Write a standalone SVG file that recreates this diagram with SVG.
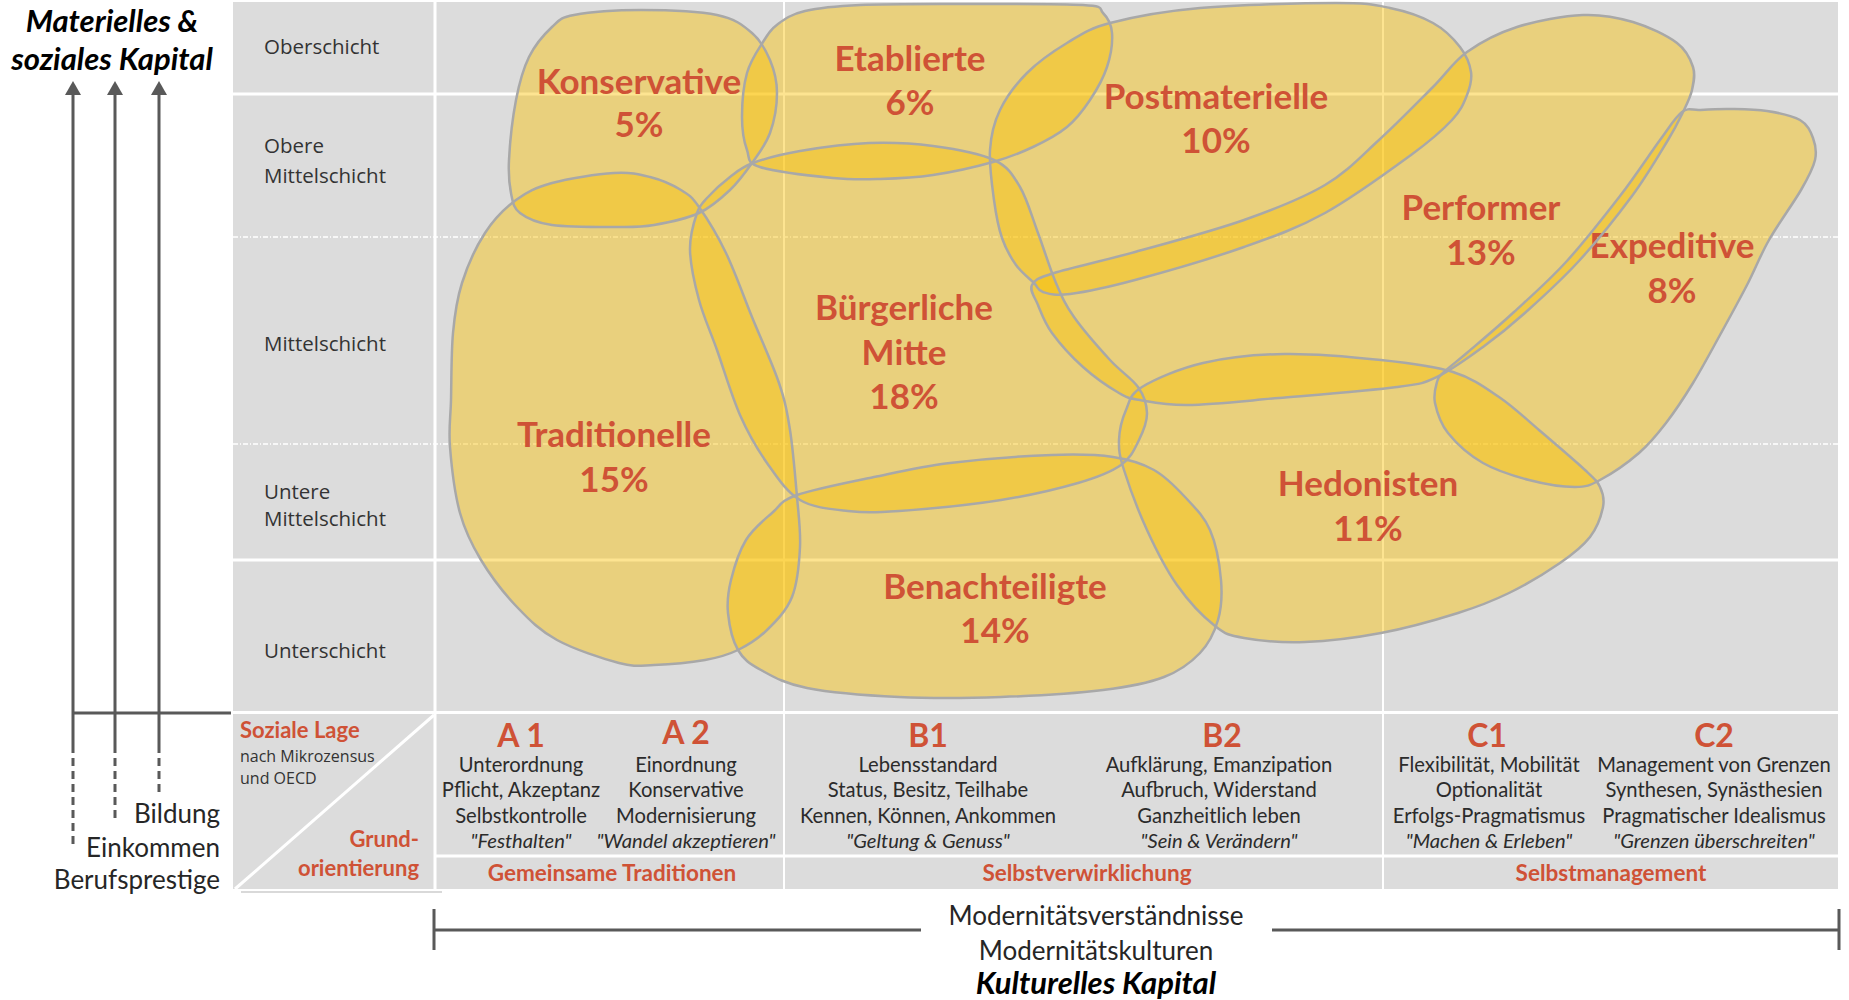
<svg xmlns="http://www.w3.org/2000/svg" xmlns:xlink="http://www.w3.org/1999/xlink" width="1849" height="1000" viewBox="0 0 1849 1000">
<defs>
<style>
text{font-family:Lato,"Liberation Sans",sans-serif;}
.bg{fill:#DCDCDC;}
.wl{stroke:#FFFFFF;stroke-width:3;fill:none;}
.wt{stroke:#FFFFFF;stroke-width:2;fill:none;}
.wd{stroke:#FFFFFF;stroke-width:1.5;stroke-dasharray:5 2 1 2;fill:none;}
.node{fill:#FAC000;fill-opacity:0.43;stroke:none;}
.outlines{fill:none;stroke:#A8A8A8;stroke-width:2.5;}
.lbl{font-weight:700;font-size:35px;fill:#CF5236;fill-opacity:1;text-anchor:middle;}
.row{font-family:"Open Sans",sans-serif;font-size:20.5px;fill:#333333;}
.small{font-family:"Open Sans",sans-serif;font-size:16px;fill:#333333;}
.cell{font-size:20.2px;fill:#2B2B2B;text-anchor:middle;}
.it{font-style:italic;}
.code{font-weight:700;font-size:32px;fill:#CF5236;text-anchor:middle;}
.grp{font-weight:700;font-size:22.5px;fill:#CF5236;text-anchor:middle;}
.redl{font-weight:700;font-size:22px;fill:#CF5236;}
.ax{stroke:#595959;stroke-width:3;fill:none;}
.axd{stroke:#595959;stroke-width:3;fill:none;stroke-dasharray:8 5;}
.side{font-size:26px;fill:#262626;text-anchor:end;}
.title{font-size:31px;font-weight:700;font-style:italic;fill:#000000;text-anchor:middle;}
.mod{font-size:26px;fill:#262626;text-anchor:middle;}
</style>
<marker id="ah" markerWidth="14" markerHeight="16" refX="0" refY="8" orient="auto" markerUnits="userSpaceOnUse" viewBox="0 0 14 16"><path d="M0,0 L14,8 L0,16 Z" fill="#595959"/></marker>
</defs>
<rect x="0" y="0" width="1849" height="1000" fill="#FFFFFF"/>

<g id="grid">
<rect class="bg" x="233" y="2" width="1605" height="709"/>
<rect class="bg" x="233" y="714" width="1605" height="175"/>
<path class="wl" d="M435,2 V889"/>
<path class="wt" d="M784,2 V889 M1383,2 V889"/>
<path class="wl" d="M233,94 H1838 M233,560 H1838"/>
<path class="wd" d="M233,237 H1838 M233,444 H1838"/>
<path class="wl" d="M435,856 H1838"/>
<path class="wl" d="M235,889 L434,715"/>
<path d="M241,892 H442" stroke="#D9D9D9" stroke-width="2"/>
</g>

<g id="row-labels">
<text class="row" x="264" y="54">Oberschicht</text>
<text class="row" x="264" y="153">Obere</text>
<text class="row" x="264" y="183">Mittelschicht</text>
<text class="row" x="264" y="351">Mittelschicht</text>
<text class="row" x="264" y="499">Untere</text>
<text class="row" x="264" y="526">Mittelschicht</text>
<text class="row" x="264" y="658">Unterschicht</text>
</g>

<g id="node-traditionelle" class="node">
<path id="p-trad" d="M614,173 C630.3,172 638.8,174.2 650,177 S672.8,185 681,190 S691.5,196.5 699,207 S717.2,234.7 726,253 S743.2,295.3 752,317 S772.7,364.2 779,383 S787,411 790,430 S795.3,477.5 797,497 S800.8,530.3 800,547 S797.5,583.2 792,597 S776,621.2 767,630 S748.3,645 738,650 S719,657.5 705,660 S668.3,664.5 654,665 S635.2,667.2 619,663 S574,649.3 557,640 S529.7,620.3 517,607 S490.5,575.7 481,560 S465.2,531.8 460,513 S451.5,465.8 450,447 S450.5,419 451,400 S451.2,352.5 453,333 S456.7,299.7 462,283 S476,246.8 485,233 S504.8,208.3 516,200 S535.7,187.5 552,183 S597.7,174 614,173 Z"/>
<text class="lbl" x="614" y="447">Traditionelle</text>
<text class="lbl" x="614" y="492">15%</text>
</g>

<g id="node-konservative" class="node">
<path id="p-kons" d="M574,15 C588.8,12.2 617.2,10 641,10 S698.5,11.2 717,15 S743.2,25.5 752,33 S765.8,50 770,60 S777,80.8 777,93 S774.2,121.3 770,133 S758.7,153.5 752,163 S738.8,181.7 730,190 S711.7,207.2 699,213 S667.3,222.7 654,225 S636,227 619,227 S568.5,227.3 552,225 S526.8,218.3 520,213 S512.8,201.8 511,193 S508.2,175.5 509,160 S512.7,117.2 516,100 S523,69.2 529,57 S544.5,34 552,27 S559.2,17.8 574,15 Z"/>
<text class="lbl" x="639" y="94">Konservative</text>
<text class="lbl" x="639" y="137">5%</text>
</g>

<g id="node-etablierte" class="node">
<path id="p-etab" d="M763,42 C768.2,33.8 771,29.2 778,24 S791.3,14.2 805,11 S834.2,6.2 860,5 S922.8,4 960,4 S1059.2,3.5 1083,5 S1098.2,8.3 1103,13 S1111.3,24 1112,33 S1110.7,55.8 1107,67 S1096.7,90 1090,100 S1076.5,119.2 1067,127 S1045.3,141.2 1033,147 S1009.7,157.3 993,162 S951.8,172.2 933,175 S896.7,178.5 880,179 S853,180 833,178 S774.3,171.7 760,167 S750,158.3 747,150 S742,129.8 742,117 S743.5,85.5 747,73 S757.8,50.2 763,42 Z"/>
<text class="lbl" x="910" y="71">Etablierte</text>
<text class="lbl" x="910" y="115">6%</text>
</g>

<g id="node-buergerliche-mitte" class="node">
<path id="p-bm" d="M753,163 C764.7,158.7 780.7,154.3 800,151 S846.8,143.8 869,143 S912.2,143.2 933,146 S979.5,153.2 994,160 S1012.7,174.8 1020,187 S1032,217 1038,233 S1050,269 1056,283 S1065,304.2 1074,317 S1099.3,348.3 1110,360 S1131.8,378.2 1138,387 S1146.8,404.2 1147,413 S1143.3,431.3 1139,440 S1131.2,457.8 1121,465 S1098,477.2 1078,483 S1030.8,495.3 1001,500 S924.5,509.2 899,511 S864.5,512.8 848,511 S813.5,508 800,500 S777,477.2 767,463 S748.3,433.8 740,415 S723.8,369.2 717,350 S703.5,316.7 699,300 S690.3,264.5 690,250 S694,221.8 697,213 S702.5,203 708,197 S722.5,182.7 730,177 S741.3,167.3 753,163 Z"/>
<text class="lbl" x="904" y="320">Bürgerliche</text>
<text class="lbl" x="904" y="365">Mitte</text>
<text class="lbl" x="904" y="409">18%</text>
</g>

<g id="node-benachteiligte" class="node">
<path id="p-ben" d="M797,495 C814,489 848.5,482.3 874,477 S920.3,466.7 950,463 S1024.8,456 1052,455 S1096,454.5 1113,457 S1142,463.3 1154,470 S1175.7,487 1185,497 S1204,516.2 1210,530 S1219.7,565 1221,580 S1221.5,607.8 1218,620 S1209,643.5 1200,653 S1180.2,670.8 1164,677 S1130.2,686.7 1103,690 S1035,695.8 1001,697 S931.3,698.5 899,697 S830,692.5 807,688 S772.5,676.3 761,670 S743.5,659.5 738,650 S729.2,624.7 728,613 S728,592.2 731,580 S739.2,551.2 746,540 S763.5,520.5 772,513 S780,501 797,495 Z"/>
<text class="lbl" x="995" y="599">Benachteiligte</text>
<text class="lbl" x="995" y="643">14%</text>
</g>

<g id="node-postmaterielle" class="node">
<path id="p-post" d="M990,150 C991,135 993.8,122.8 1000,110 S1015.8,84.2 1027,73 S1053.2,51.3 1067,43 S1087.8,28.8 1110,23 S1162.3,11.3 1200,8 S1304.3,3 1336,3 S1373.8,4.7 1390,8 S1421.3,16.5 1433,23 S1453.7,38.8 1460,47 S1469.8,64 1471,72 S1470.2,87 1467,95 S1461.3,110 1452,120 S1432.2,139.5 1411,155 S1352.8,197.7 1325,213 S1275.7,235.8 1244,247 S1164,272.2 1135,280 S1085.3,292 1070,294 S1049,293.8 1043,292 S1038.5,287.5 1034,283 S1021.3,272.5 1016,265 S1005.7,248.8 1002,238 S996,214.7 994,200 S989,165 990,150 Z"/>
<text class="lbl" x="1216" y="109">Postmaterielle</text>
<text class="lbl" x="1216" y="153">10%</text>
</g>

<g id="node-performer" class="node">
<path id="p-perf" d="M1032,285 C1034.7,279.7 1036.8,278.5 1054,273 S1103.3,260.8 1135,252 S1212.3,231.2 1244,220 S1302.5,198.3 1325,185 S1361,156.3 1379,140 S1418.3,101.7 1433,87 S1453,62 1467,52 S1497.7,33.2 1517,27 S1563.7,15.8 1583,15 S1617.3,17.3 1633,22 S1667,35.5 1677,43 S1690.5,59.2 1693,67 S1693.7,82.5 1692,90 S1687,103.7 1683,112 S1676.5,126 1668,140 S1647,175.7 1632,196 S1595.7,242.7 1578,262 S1541.8,297.8 1526,312 S1497.8,336.2 1483,347 S1451.3,370.3 1437,377 S1423.3,383.5 1397,387 S1313.8,395 1279,398 S1211.2,404.7 1188,405 S1151.5,402 1140,400 S1128.5,398.5 1119,393 S1094.2,377 1083,367 S1059.5,343.3 1052,333 S1041.3,313 1038,305 S1029.3,290.3 1032,285 Z"/>
<text class="lbl" x="1481" y="220">Performer</text>
<text class="lbl" x="1481" y="265">13%</text>
</g>

<g id="node-hedonisten" class="node">
<path id="p-hed" d="M1142,387 C1154.8,379.2 1179.3,368.5 1203,363 S1254.3,354.5 1284,354 S1352.8,357 1381,360 S1433.3,365.8 1453,372 S1484.7,387.3 1499,397 S1524.7,417.8 1539,430 S1574.8,460.5 1585,470 S1597,480.8 1600,487 S1604.7,498.7 1603,507 S1597.2,527.7 1590,537 S1573.5,553.7 1560,563 S1526,584.7 1509,593 S1479.3,606.3 1458,613 S1406.5,628.2 1381,633 S1327.8,641.2 1305,642 S1259,640.7 1244,638 S1226.2,634.8 1215,626 S1188.3,601 1177,585 S1155.8,549.2 1147,530 S1128.7,485 1124,470 S1118.7,450 1119,440 S1122.2,418.8 1126,410 S1129.2,394.8 1142,387 Z"/>
<text class="lbl" x="1368" y="496">Hedonisten</text>
<text class="lbl" x="1368" y="541">11%</text>
</g>

<g id="node-expeditive" class="node">
<path id="p-exp" d="M1682,112 C1688.7,107 1692,110.5 1700,110 S1718.8,108.8 1730,109 S1755.3,109.2 1767,111 S1792.3,115.5 1800,120 S1810.5,131.3 1813,138 S1817,151.3 1815,160 S1808.7,176.7 1801,190 S1778,224.2 1769,240 S1755.2,269.2 1747,285 S1729,318.7 1720,335 S1702,368.3 1693,383 S1675,411.3 1666,423 S1650,443.5 1639,453 S1610.7,474.3 1600,480 S1586.8,487 1575,487 S1544.3,484 1529,480 S1496.5,470.8 1483,463 S1456,443 1448,433 S1436.8,411.5 1435,403 S1435.5,387.2 1437,382 S1438.8,377 1444,372 S1456.3,362 1468,352 S1497.7,327 1514,312 S1548.3,281.3 1566,262 S1604.3,216.3 1620,196 S1649.7,154 1660,140 S1675.3,117 1682,112 Z"/>
<text class="lbl" x="1672" y="258">Expeditive</text>
<text class="lbl" x="1672" y="303">8%</text>
</g>

<g id="outlines" class="outlines">
<use xlink:href="#p-trad" href="#p-trad"/>
<use xlink:href="#p-kons" href="#p-kons"/>
<use xlink:href="#p-etab" href="#p-etab"/>
<use xlink:href="#p-bm" href="#p-bm"/>
<use xlink:href="#p-ben" href="#p-ben"/>
<use xlink:href="#p-post" href="#p-post"/>
<use xlink:href="#p-perf" href="#p-perf"/>
<use xlink:href="#p-hed" href="#p-hed"/>
<use xlink:href="#p-exp" href="#p-exp"/>
</g>

<g id="connectors">
<path class="ax" d="M73,745 V95" marker-end="url(#ah)"/>
<path class="ax" d="M115,745 V95" marker-end="url(#ah)"/>
<path class="ax" d="M159,745 V95" marker-end="url(#ah)"/>
<path class="ax" d="M73,713 H231"/>
<path class="axd" d="M73,745 V847 M115,745 V823 M159,745 V793"/>
<path class="ax" d="M434,909 V950 M1839,909 V950 M434,930 H921 M1272,930 H1839"/>
</g>

<g id="left-axis-labels">
<text class="title" x="112" y="32">Materielles &amp;</text>
<text class="title" x="112" y="70">soziales Kapital</text>
<text class="side" x="220" y="823">Bildung</text>
<text class="side" x="220" y="857">Einkommen</text>
<text class="side" x="220" y="889">Berufsprestige</text>
</g>

<g id="legend-cell">
<text class="redl" x="240" y="738">Soziale Lage</text>
<text class="small" x="240" y="762">nach Mikrozensus</text>
<text class="small" x="240" y="784">und OECD</text>
<text class="redl" x="419" y="847" text-anchor="end">Grund-</text>
<text class="redl" x="419" y="876" text-anchor="end">orientierung</text>
</g>

<g id="col-a1">
<text class="code" x="521" y="747">A 1</text>
<text class="cell" x="521" y="772">Unterordnung</text>
<text class="cell" x="521" y="797">Pflicht, Akzeptanz</text>
<text class="cell" x="521" y="823">Selbstkontrolle</text>
<text class="cell it" x="521" y="848">"Festhalten"</text>
</g>
<g id="col-a2">
<text class="code" x="686" y="744">A 2</text>
<text class="cell" x="686" y="772">Einordnung</text>
<text class="cell" x="686" y="797">Konservative</text>
<text class="cell" x="686" y="823">Modernisierung</text>
<text class="cell it" x="686" y="848">"Wandel akzeptieren"</text>
</g>
<g id="col-b1">
<text class="code" x="928" y="747">B1</text>
<text class="cell" x="928" y="772">Lebensstandard</text>
<text class="cell" x="928" y="797">Status, Besitz, Teilhabe</text>
<text class="cell" x="928" y="823">Kennen, Können, Ankommen</text>
<text class="cell it" x="928" y="848">"Geltung &amp; Genuss"</text>
</g>
<g id="col-b2">
<text class="code" x="1222" y="747">B2</text>
<text class="cell" x="1219" y="772">Aufklärung, Emanzipation</text>
<text class="cell" x="1219" y="797">Aufbruch, Widerstand</text>
<text class="cell" x="1219" y="823">Ganzheitlich leben</text>
<text class="cell it" x="1219" y="848">"Sein &amp; Verändern"</text>
</g>
<g id="col-c1">
<text class="code" x="1487" y="747">C1</text>
<text class="cell" x="1489" y="772">Flexibilität, Mobilität</text>
<text class="cell" x="1489" y="797">Optionalität</text>
<text class="cell" x="1489" y="823">Erfolgs-Pragmatismus</text>
<text class="cell it" x="1489" y="848">"Machen &amp; Erleben"</text>
</g>
<g id="col-c2">
<text class="code" x="1714" y="747">C2</text>
<text class="cell" x="1714" y="772">Management von Grenzen</text>
<text class="cell" x="1714" y="797">Synthesen, Synästhesien</text>
<text class="cell" x="1714" y="823">Pragmatischer Idealismus</text>
<text class="cell it" x="1714" y="848">"Grenzen überschreiten"</text>
</g>

<g id="groups">
<text class="grp" x="612" y="881">Gemeinsame Traditionen</text>
<text class="grp" x="1087" y="881">Selbstverwirklichung</text>
<text class="grp" x="1611" y="881">Selbstmanagement</text>
</g>

<g id="bottom-axis-labels">
<text class="mod" x="1096" y="925">Modernitätsverständnisse</text>
<text class="mod" x="1096" y="960">Modernitätskulturen</text>
<text class="title" x="1096" y="994">Kulturelles Kapital</text>
</g>
</svg>
